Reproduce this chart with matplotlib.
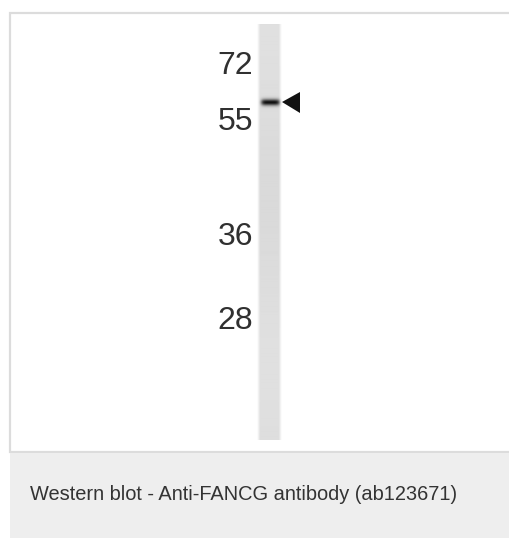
import numpy as np
import matplotlib
matplotlib.use("Agg")
import matplotlib.pyplot as plt
from matplotlib.patches import Rectangle, Polygon

# ---- data ----
marker_labels = ["72", "55", "36", "28"]
marker_y_px = [66, 122, 237, 321]       # vertical position of each ladder label
band_y_px = 102                          # detected band (~58 kDa)
caption = "Western blot - Anti-FANCG antibody (ab123671)"

W, H = 510, 538
fig = plt.figure(figsize=(W / 100, H / 100), dpi=100)
ax = fig.add_axes([0, 0, 1, 1])
ax.set_xlim(0, W)
ax.set_ylim(H, 0)
ax.axis("off")
fig.patch.set_facecolor("white")

# panel border
ax.add_patch(Rectangle((10, 12.5), 505, 439, facecolor="white", edgecolor="#dcdcdc", lw=1.6))
# caption area
ax.add_patch(Rectangle((10, 452.5), 505, 85, facecolor="#eeeeee", edgecolor="none"))
ax.text(30, 494, caption, fontsize=14.4, family="Liberation Sans", color="#333333",
        va="center", ha="left")

# lane as image with vertical profile
lane_x0, lane_x1, lane_y0, lane_y1 = 257, 282, 24, 440
ys = np.linspace(lane_y0, lane_y1, 400)
xs = np.linspace(lane_x0, lane_x1, 50)
YY, XX = np.meshgrid(ys, xs, indexing="ij")
base = 0.865 + 0.012 * np.cos((ys - lane_y0) / 55.0)[:, None] * np.ones_like(XX)
edge = np.clip(np.minimum(XX - lane_x0, lane_x1 - XX) / 3.0, 0, 1)
img = 1 - (1 - base) * edge
# band
band = np.exp(-((YY - band_y_px) / 3.2) ** 2) * np.exp(-((XX - 270.5) / 9.5) ** 6)
img = img - 0.8 * band
ax.imshow(img, cmap="gray", vmin=0, vmax=1, extent=(lane_x0, lane_x1, lane_y1, lane_y0),
          interpolation="bilinear", aspect="auto", zorder=2)

# arrow
ax.add_patch(Polygon([[282, band_y_px], [300, 92], [300, 113]], closed=True,
                     facecolor="#111111", edgecolor="none", zorder=3))

for lab, y in zip(marker_labels, marker_y_px):
    ax.text(253, y, lab, fontsize=23, family="Liberation Sans", color="#303030",
            ha="right", va="center", zorder=3)

fig.savefig("out.png", dpi=100)
